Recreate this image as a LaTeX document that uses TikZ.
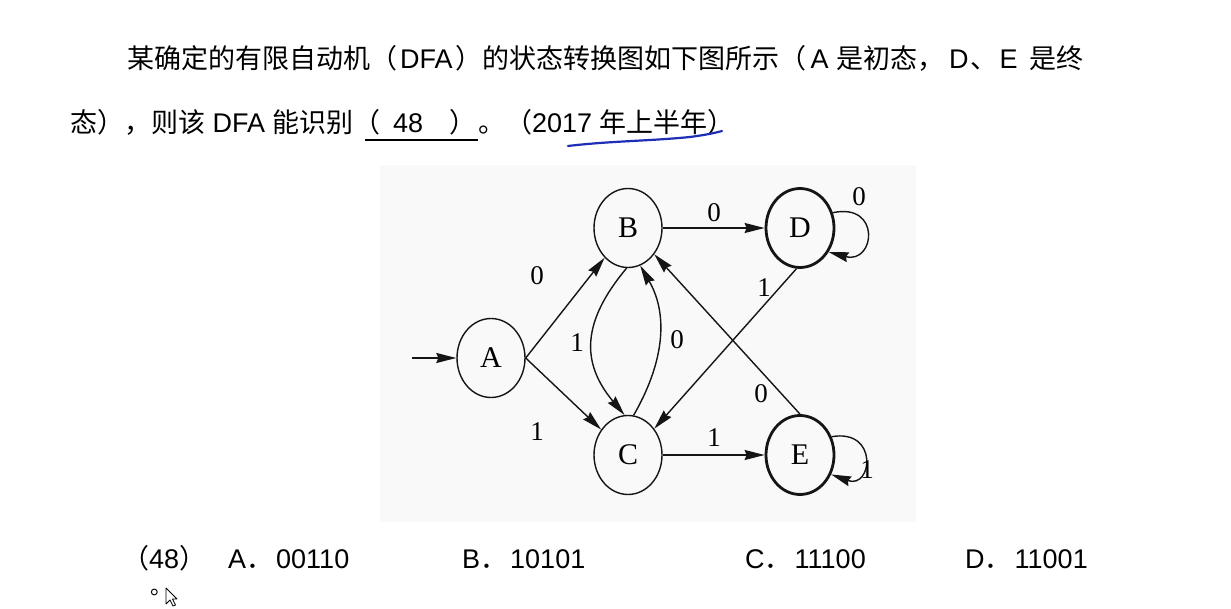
\documentclass[tikz,border=0pt]{standalone}
\usepackage{fontspec}
\setmainfont{Liberation Serif}
\newfontfamily\zhfont{Noto Sans CJK SC}
\newfontfamily\ensans{Liberation Sans}
\usepackage{tikz}
\usetikzlibrary{shapes.geometric, arrows.meta}
\usepackage{xcolor}
\definecolor{ink}{HTML}{151515}
\definecolor{pen}{HTML}{1F2FB5}
\definecolor{figbg}{HTML}{F9F9F9}
\newcommand{\en}[1]{{\ensans #1}}
\tikzset{
    state/.style={
        ellipse, draw=ink, line width=1.4pt, minimum width=68pt, minimum height=79pt,
        inner sep=0pt, font=\fontsize{30}{30}\selectfont
    },
    final/.style={
        line width=2.8pt
    },
    arrow/.style={
        -{Stealth[length=20pt, width=10pt, inset=2pt]}, line width=1.4pt, draw=ink
    },
    lbl/.style={
        inner sep=0pt, font=\fontsize{27}{27}\selectfont
    },
    txt/.style={
        anchor=base west, inner sep=0pt, font=\zhfont\fontsize{27}{30}\selectfont
    }
}

\begin{document}
\begin{tikzpicture}[x=1pt, y=1pt]

    \fill[white] (0,0) rectangle (1231,-609);
    \useasboundingbox (0,0) rectangle (1231,-609);
    \fill[figbg] (380,-165) rectangle (916,-522);

    % question text
    \node[txt] (line1) at (127,-69)
        {某确定的有限自动机（\kern3pt\en{DFA}\kern3pt）的状态转换图如下图所示（\kern4pt\en{A }是初态，\kern5pt\en{D}\kern2pt、\kern2pt\en{E }\kern4pt是终};
    \node[txt] (line2) at (70,-133) {态），则该\en{ DFA }能识别};
    \node[txt] (blank) at (365,-133)
        {\makebox[113pt][l]{\kern-12pt（\kern13pt\en{48}\kern26pt）}};
    \node[txt] (year)  at (478,-133) {。（\en{2017 }年上半年）};
    \draw[line width=1.8pt] ([yshift=-7pt]blank.base west) -- ([yshift=-7pt]blank.base east);
    \draw[pen, line width=2.2pt, line cap=round]
        (568,-146) .. controls (610,-141) and (650,-141) .. (690,-137)
        .. controls (705,-135) and (715,-133) .. (722,-131);

    % states
    \node[state]        (A) at (491,-358) {A};
    \node[state]        (B) at (628,-228) {B};
    \node[state]        (C) at (628,-455) {C};
    \node[state, final] (D) at (800,-228) {D};
    \node[state, final] (E) at (800,-455) {E};
    \coordinate (init) at (412,-358);

    \draw[arrow] (init)    -- (A);
    \draw[arrow] (A.east)  -- (B);
    \draw[arrow] (A.east)  -- (C);
    \draw[arrow] (B)       -- (D);
    \draw[arrow] (C)       -- (E);
    \draw[arrow] (B.-92) to[out=-130, in=130, looseness=1.2] (C.95);
    \draw[arrow] (C.82)  to[out=60, in=-60] (B.-72);
    \draw[arrow] (D.-95)   -- (C.45);
    \draw[arrow] (E.north) -- (B.-45);
    \draw[arrow] (D.25) .. controls +(12:50) and +(-15:48) .. (D.-40);
    \draw[arrow] (E.30) .. controls +(10:48) and +(-20:44) .. (E.-32);

    \node[lbl] (lab) at (537,-276) {0};
    \node[lbl] (lac) at (537,-432) {1};
    \node[lbl] (lbd) at (714,-213) {0};
    \node[lbl] (lce) at (714,-438) {1};
    \node[lbl] (lbc) at (577,-343) {1};
    \node[lbl] (lcb) at (677,-340) {0};
    \node[lbl] (ldc) at (764,-288) {1};
    \node[lbl] (leb) at (761,-394) {0};
    \node[lbl] (ldd) at (859,-197) {0};
    \node[lbl] (lee) at (867,-470) {1};

    % options
    \node[txt] (opt)  at (122,-568) {（\en{48}）};
    \node[txt] (optA) at (228,-568) {\en{A}．\kern3pt\en{00110}};
    \node[txt] (optB) at (462,-568) {\en{B}．\kern3pt\en{10101}};
    \node[txt] (optC) at (745,-568) {\en{C}．\kern3pt\en{11100}};
    \node[txt] (optD) at (965,-568) {\en{D}．\kern3pt\en{11001}};
    \node[txt, font=\zhfont\fontsize{22}{22}\selectfont, text height=5pt] (dot) at (150,-594) {。};
    \draw[fill=white, line width=0.8pt, line join=round]
        (166,-588) -- (166,-604) -- (170,-600) -- (173,-606) -- (175.5,-605)
        -- (172.5,-599) -- (177,-599) -- cycle;

\end{tikzpicture}
\end{document}
